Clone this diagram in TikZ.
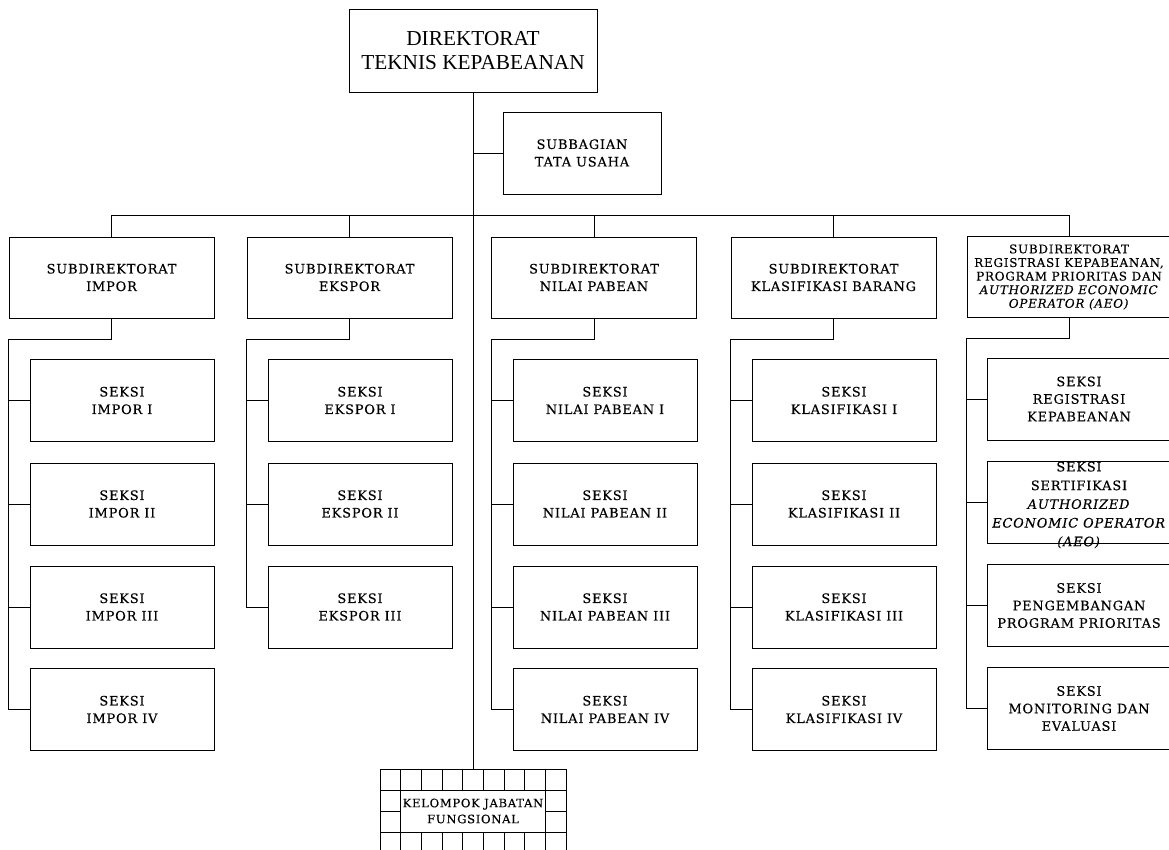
\documentclass[tikz,border=0pt]{standalone}
\usepackage{fontspec}
\setmainfont{DejaVu Serif}
\newfontfamily\dirfont{Liberation Serif}
\newfontfamily\boxfont[LetterSpace=6,FakeBold=0.3]{DejaVu Serif}
\begin{document}
\begin{tikzpicture}[x=1pt,y=-1pt,
  conn/.style={line width=0.9pt},
  box/.style={draw, line width=0.9pt, align=center, inner sep=1pt,
    font=\boxfont\fontsize{13}{17.5}\selectfont},
  dirbox/.style={box, minimum width=248, minimum height=83,
    font=\dirfont\fontsize{21.3}{23.5}\selectfont},
  subbox/.style={box, minimum width=205, minimum height=81},
  seksibox/.style={box, minimum width=184, minimum height=82},
  regbox/.style={box, minimum width=204, minimum height=81,
    font=\boxfont\fontsize{12}{13.6}\selectfont},
  kelbox/.style={box, minimum width=144.67, minimum height=42,
    font=\boxfont\fontsize{11.6}{16}\selectfont},
  overtext/.style={align=center, inner sep=1pt,
    font=\boxfont\fontsize{13}{18.7}\selectfont}
]
\useasboundingbox (0,0) rectangle (1169,850);

% top
\node[dirbox] (dir) at (473,50.5) {DIREKTORAT\\TEKNIS KEPABEANAN};
\node[box, minimum width=158, minimum height=82] (sub) at (582,153) {SUBBAGIAN\\TATA USAHA};

% subdirektorat
\node[subbox] (impor) at (111.5,277.5) {SUBDIREKTORAT\\IMPOR};
\node[subbox] (ekspor) at (349.5,277.5) {SUBDIREKTORAT\\EKSPOR};
\node[subbox] (nilai) at (594,277.5) {SUBDIREKTORAT\\NILAI PABEAN};
\node[subbox] (klas) at (833.5,277.5) {SUBDIREKTORAT\\KLASIFIKASI BARANG};
\node[regbox] (reg) at (1069,277) {SUBDIREKTORAT\\REGISTRASI KEPABEANAN,\\PROGRAM PRIORITAS DAN\\\textit{AUTHORIZED ECONOMIC}\\\textit{OPERATOR (AEO)}};

% seksi impor
\node[seksibox] (i1) at (122,400.5) {SEKSI\\IMPOR I};
\node[seksibox] (i2) at (122,504) {SEKSI\\IMPOR II};
\node[seksibox] (i3) at (122,607) {SEKSI\\IMPOR III};
\node[seksibox] (i4) at (122,709.5) {SEKSI\\IMPOR IV};
% seksi ekspor
\node[seksibox] (e1) at (360,400.5) {SEKSI\\EKSPOR I};
\node[seksibox] (e2) at (360,504) {SEKSI\\EKSPOR II};
\node[seksibox] (e3) at (360,607) {SEKSI\\EKSPOR III};
% seksi nilai pabean
\node[seksibox] (n1) at (605,400.5) {SEKSI\\NILAI PABEAN I};
\node[seksibox] (n2) at (605,504) {SEKSI\\NILAI PABEAN II};
\node[seksibox] (n3) at (605,607) {SEKSI\\NILAI PABEAN III};
\node[seksibox] (n4) at (605,709.5) {SEKSI\\NILAI PABEAN IV};
% seksi klasifikasi
\node[seksibox] (k1) at (844,400.5) {SEKSI\\KLASIFIKASI I};
\node[seksibox] (k2) at (844,504) {SEKSI\\KLASIFIKASI II};
\node[seksibox] (k3) at (844,607) {SEKSI\\KLASIFIKASI III};
\node[seksibox] (k4) at (844,709.5) {SEKSI\\KLASIFIKASI IV};
% seksi registrasi
\node[seksibox] (r1) at (1079,399) {SEKSI\\REGISTRASI\\KEPABEANAN};
\node[seksibox] (r2) at (1079,502) {};
\node[overtext] (r2t) at ([yshift=-3pt]r2.center) {SEKSI\\SERTIFIKASI\\\textit{AUTHORIZED}\\\textit{ECONOMIC OPERATOR}\\\textit{(AEO)}};
\node[seksibox] (r3) at (1079,605.5) {SEKSI\\PENGEMBANGAN\\PROGRAM PRIORITAS};
\node[seksibox] (r4) at (1079,708.5) {SEKSI\\MONITORING DAN\\EVALUASI};

% kelompok jabatan fungsional
\node[kelbox] (kel) at (473,811) {KELOMPOK JABATAN\\FUNGSIONAL};
\coordinate (kj) at (473,769);

% connectors
\draw[conn] (dir.south) -- (kj);
\draw[conn] (dir.south |- sub.west) -- (sub.west);
\coordinate (bus) at (0,215);
\draw[conn] (impor.north) |- (reg.north |- bus) -- (reg.north);
\foreach \n in {ekspor,nilai,klas}
  \draw[conn] (\n.north) -- (\n.north |- bus);

\draw[conn] (impor.south) |- ([yshift=-21pt]impor.south west) |- (i4.west);
\foreach \k in {i1,i2,i3} \draw[conn] (impor.south west |- \k.west) -- (\k.west);
\draw[conn] (ekspor.south) |- ([yshift=-21pt]ekspor.south west) |- (e3.west);
\foreach \k in {e1,e2} \draw[conn] (ekspor.south west |- \k.west) -- (\k.west);
\draw[conn] (nilai.south) |- ([yshift=-21pt]nilai.south west) |- (n4.west);
\foreach \k in {n1,n2,n3} \draw[conn] (nilai.south west |- \k.west) -- (\k.west);
\draw[conn] (klas.south) |- ([yshift=-21pt]klas.south west) |- (k4.west);
\foreach \k in {k1,k2,k3} \draw[conn] (klas.south west |- \k.west) -- (\k.west);
\draw[conn] (reg.south) |- ([yshift=-20pt]reg.south west) |- (r4.west);
\foreach \k in {r1,r2,r3} \draw[conn] (reg.south west |- \k.west) -- (\k.west);

% grid around kelompok
\draw[conn] (380,769) rectangle (566,872);
\draw[conn] (380,790) -- (566,790);
\draw[conn] (380,832) -- (566,832);
\draw[conn] (380,811) -- (400.67,811);
\draw[conn] (545.33,811) -- (566,811);
\foreach \i in {1,...,8} {
  \draw[conn] ({380+\i*20.667},769) -- ({380+\i*20.667},790);
  \draw[conn] ({380+\i*20.667},832) -- ({380+\i*20.667},872);
}
\end{tikzpicture}
\end{document}
